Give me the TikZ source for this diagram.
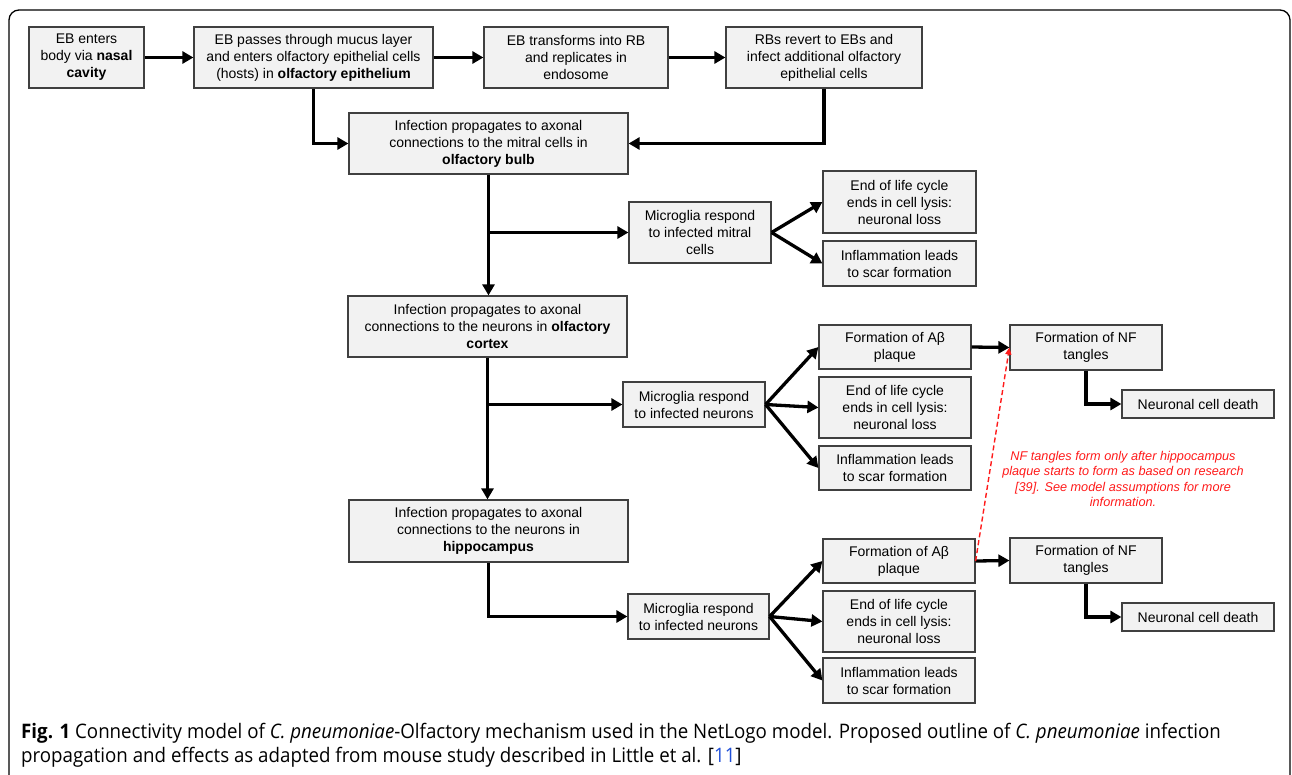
\documentclass[tikz,border=0pt]{standalone}
\usepackage{fontspec}
\setmainfont{Liberation Sans}
\newfontfamily\capfont[FakeStretch=0.936]{Open Sans}
\usetikzlibrary{arrows.meta}
\definecolor{boxgray}{HTML}{F2F2F2}
\definecolor{boxline}{HTML}{404040}
\definecolor{notered}{HTML}{FF1A1A}
\definecolor{refblue}{HTML}{1F4FD8}
\tikzset{
  bx/.style={draw=boxline, line width=1.2pt, fill=boxgray, inner sep=0pt, align=center,
    font=\fontsize{14}{17}\selectfont},
  arr/.style={line width=3.3pt, -{Triangle[length=11pt,width=12pt]}},
  notearr/.style={notered, line width=1.4pt, dash pattern=on 5pt off 3pt, -{Triangle[length=7pt,width=6pt]}},
}
\begin{document}
\begin{tikzpicture}[x=1pt,y=-1pt]
\clip (0,0) rectangle (1292,774);
\draw[line width=1.3pt, rounded corners=10pt] (9,10) rectangle (1290,810);

\node[bx, minimum width=115pt, minimum height=61pt] (b1) at (86.5,57.5) {EB enters\\body via \textbf{nasal}\\\textbf{cavity}};
\node[bx, minimum width=239pt, minimum height=61pt] (b2) at (313.5,57.5) {EB passes through mucus layer\\and enters olfactory epithelial cells\\(hosts) in \textbf{olfactory epithelium}};
\node[bx, minimum width=184pt, minimum height=61pt] (b3) at (576,57.5) {EB transforms into RB\\and replicates in\\endosome};
\node[bx, minimum width=196pt, minimum height=61pt] (b4) at (824,57.5) {RBs revert to EBs and\\infect additional olfactory\\epithelial cells};
\node[bx, minimum width=279pt, minimum height=61pt] (ob) at (488.5,143.5) {Infection propagates to axonal\\connections to the mitral cells in\\\textbf{olfactory bulb}};
\node[bx, minimum width=142pt, minimum height=61pt] (mm) at (700,232.5) {Microglia respond\\to infected mitral\\cells};
\node[bx, minimum width=153pt, minimum height=62pt] (el1) at (899.5,202) {End of life cycle\\ends in cell lysis:\\neuronal loss};
\node[bx, minimum width=153pt, minimum height=45pt] (in1) at (899.5,263.5) {Inflammation leads\\to scar formation};

\node[bx, minimum width=279pt, minimum height=61pt] (oc) at (487.5,326.5) {Infection propagates to axonal\\connections to the neurons in \textbf{olfactory}\\\textbf{cortex}};
\node[bx, minimum width=142pt, minimum height=45pt] (mn) at (694,404.5) {Microglia respond\\to infected neurons};
\node[bx, minimum width=152pt, minimum height=44pt] (ab1) at (895,347) {Formation of Aβ\\plaque};
\node[bx, minimum width=152pt, minimum height=61pt] (el2) at (895,407.5) {End of life cycle\\ends in cell lysis:\\neuronal loss};
\node[bx, minimum width=152pt, minimum height=44pt] (in2) at (895,468) {Inflammation leads\\to scar formation};
\node[bx, minimum width=152pt, minimum height=45pt] (nf1) at (1086,347.5) {Formation of NF\\tangles};
\node[bx, minimum width=152pt, minimum height=28pt] (nd1) at (1198,404) {Neuronal cell death};

\node[bx, minimum width=279pt, minimum height=62pt] (hc) at (488.5,531) {Infection propagates to axonal\\connections to the neurons in\\\textbf{hippocampus}};
\node[bx, minimum width=141pt, minimum height=45pt] (mn2) at (698.5,616.5) {Microglia respond\\to infected neurons};
\node[bx, minimum width=152pt, minimum height=44pt] (ab2) at (899,561) {Formation of Aβ\\plaque};
\node[bx, minimum width=152pt, minimum height=61pt] (el3) at (899,621.5) {End of life cycle\\ends in cell lysis:\\neuronal loss};
\node[bx, minimum width=152pt, minimum height=45pt] (in3) at (899,680.5) {Inflammation leads\\to scar formation};
\node[bx, minimum width=152pt, minimum height=45pt] (nf2) at (1086,560.5) {Formation of NF\\tangles};
\node[bx, minimum width=152pt, minimum height=28pt] (nd2) at (1198,617) {Neuronal cell death};

\node[text=notered, align=center, font=\fontsize{12.7}{15.4}\selectfont\itshape] (note) at (1123,479)
  {NF tangles form only after hippocampus\\plaque starts to form as based on research\\{[39]}. See model assumptions for more\\information.};

% connectors
\draw[arr] (b1) -- (b2);
\draw[arr] (b2) -- (b3);
\draw[arr] (b3) -- (b4);
\draw[arr] (b2.south) |- (ob.west);
\draw[arr] (b4.south) |- (ob.east);
\draw[arr] (ob.south) -- (ob.south |- oc.north);
\draw[arr] (ob.south |- mm.west) -- (mm.west);
\draw[arr] (mm.east) -- (el1.west);
\draw[arr] (mm.east) -- (in1.west);

\draw[arr] (oc.south) -- (oc.south |- hc.north);
\draw[arr] (oc.south |- mn.west) -- (mn.west);
\draw[arr] (mn.east) -- (ab1.west);
\draw[arr] (mn.east) -- (el2.west);
\draw[arr] (mn.east) -- (in2.west);
\draw[arr] (ab1.east) -- (nf1.west);
\draw[arr] (nf1.south) |- (nd1.west);

\draw[arr] (hc.south) |- (mn2.west);
\draw[arr] (mn2.east) -- (ab2.west);
\draw[arr] (mn2.east) -- (el3.west);
\draw[arr] (mn2.east) -- (in3.west);
\draw[arr] (ab2.east) -- (nf2.west);
\draw[arr] (nf2.south) |- (nd2.west);

\draw[notearr] (ab2.east) -- (nf1.west);

% caption
\node[anchor=west, inner sep=0pt, font=\capfont\fontsize{20}{24}\selectfont] (cap1) at (21,733)
  {\textbf{Fig. 1} Connectivity model of \textit{C. pneumoniae}-Olfactory mechanism used in the NetLogo model. Proposed outline of \textit{C. pneumoniae} infection};
\node[anchor=west, inner sep=0pt, font=\capfont\fontsize{20}{24}\selectfont] (cap2) at (21,757)
  {propagation and effects as adapted from mouse study described in Little et al. [\textcolor{refblue}{11}]};
\end{tikzpicture}
\end{document}
